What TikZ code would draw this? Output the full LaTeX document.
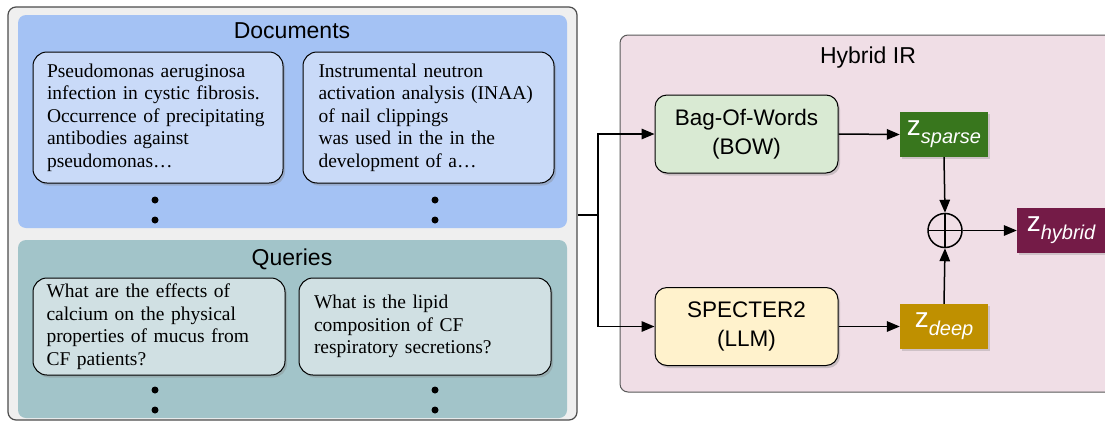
\documentclass[tikz,border=0pt]{standalone}
\usepackage{fontspec}
\setmainfont{Liberation Serif}
\setsansfont{Liberation Sans}
\usetikzlibrary{arrows.meta,shadows,positioning}
\definecolor{outerfill}{HTML}{EFEFEF}
\definecolor{docpanel}{HTML}{A4C2F4}
\definecolor{docbox}{HTML}{C9DAF8}
\definecolor{qpanel}{HTML}{A2C4C9}
\definecolor{qbox}{HTML}{D0E0E3}
\definecolor{hybfill}{HTML}{F0DEE6}
\definecolor{bowfill}{HTML}{D9EAD3}
\definecolor{llmfill}{HTML}{FFF2CC}
\definecolor{zsp}{HTML}{38761D}
\definecolor{zdp}{HTML}{BF9000}
\definecolor{zhy}{HTML}{741B47}
\tikzset{
  panel/.style={rounded corners=8pt, inner sep=0pt},
  textbox/.style={draw=black, line width=1pt, rounded corners=14pt, align=left,
     inner xsep=14pt, inner ysep=0pt, font=\fontsize{19.5}{22.5}\selectfont,
     drop shadow={shadow xshift=2pt, shadow yshift=-2.5pt, opacity=0.35}},
  title/.style={font=\sffamily\fontsize{23}{26}\selectfont},
  model/.style={draw=black, line width=1pt, rounded corners=12pt, align=center,
     minimum width=183pt, minimum height=78pt, font=\sffamily\fontsize{22.5}{29}\selectfont,
     drop shadow={shadow xshift=2pt, shadow yshift=-2.5pt, opacity=0.35}},
  zbox/.style={minimum width=88pt, minimum height=45pt, inner sep=0pt, text=white,
     font=\sffamily,
     drop shadow={shadow xshift=1.5pt, shadow yshift=-2pt, opacity=0.3}},
  arr/.style={line width=1.5pt, -{Triangle[length=13pt,width=10.5pt]}},
  ln/.style={line width=1.5pt},
  dot/.style={circle, fill=black, inner sep=0pt, minimum size=7pt},
}
\newcommand{\zlab}[1]{{\fontsize{28}{28}\selectfont z}\raisebox{-8pt}{\fontsize{20}{20}\selectfont\itshape #1}}
\begin{document}
\begin{tikzpicture}[x=1pt,y=-1pt]
\useasboundingbox (0,0) rectangle (1105,423);
% outer left container
\node[panel, draw=black!70, line width=1.2pt, fill=outerfill, minimum width=569pt, minimum height=413pt] (left) at (292.5,213.5) {};
\node[panel, fill=docpanel, minimum width=549pt, minimum height=213pt] (docp) at (292.5,121.5) {};
\node[panel, fill=qpanel, minimum width=549pt, minimum height=178pt] (qp) at (292.5,329) {};
\node[title] (doct) at (292,31) {Documents};
\node[title] (qt) at (292,259) {Queries};
% document boxes
\node[textbox, fill=docbox, text width=222pt, minimum height=131pt] (d1) at (158,117.5)
  {Pseudomonas aeruginosa\\infection in cystic fibrosis.\\Occurrence of precipitating\\antibodies against\\pseudomonas\ldots};
\node[textbox, fill=docbox, text width=220pt, inner xsep=15.5pt, minimum height=131pt] (d2) at (428.5,117.5)
  {Instrumental neutron\\activation analysis (INAA)\\of nail clippings\\was used in the in the\\development of a\ldots};
\node[textbox, fill=qbox, text width=225pt, inner xsep=13.5pt, minimum height=97pt] (q1) at (159,326.5)
  {What are the effects of\\calcium on the physical\\properties of mucus from\\CF patients?};
\node[textbox, fill=qbox, text width=222pt, inner xsep=15pt, minimum height=97pt] (q2) at (425,326.5)
  {What is the lipid\\composition of CF\\respiratory secretions?};
% dots
\node[dot] (d1a) at (155,200) {};
\node[dot] (d1b) at (155,220) {};
\node[dot] (d2a) at (435,200) {};
\node[dot] (d2b) at (435,220) {};
\node[dot] (q1a) at (155,390) {};
\node[dot] (q1b) at (155,410) {};
\node[dot] (q2a) at (435,390) {};
\node[dot] (q2b) at (435,410) {};
% hybrid panel
\node[panel, draw=black!65, line width=1pt, fill=hybfill, minimum width=500pt, minimum height=357pt] (hyb) at (870,213.5) {};
\node[title] (hybt) at (868,58) {Hybrid IR};
\node[model, fill=bowfill] (bow) at (746.5,134) {Bag-Of-Words\\(BOW)};
\node[model, fill=llmfill] (llm) at (746.5,326.5) {SPECTER2\\(LLM)};
\node[zbox, fill=zsp] (zs) at (944,134.5) {\zlab{sparse}};
\node[zbox, fill=zdp] (zd) at (944,326.5) {\zlab{deep}};
\node[zbox, fill=zhy] (zh) at (1061,230.5) {\zlab{hybrid}};
\node[circle, draw=black, line width=1.5pt, minimum size=34pt, inner sep=0pt,
  path picture={\draw[line width=1.5pt] (path picture bounding box.north) -- (path picture bounding box.south)
   (path picture bounding box.west) -- (path picture bounding box.east);}] (plus) at (945,230.5) {};
% connectors
\coordinate (split) at (598,215);
\draw[ln] (left.east |- split) -- (split);
\draw[arr] (split) |- (bow.west);
\draw[arr] (split) |- (llm.west);
\draw[arr] (bow.east) -- (zs.west);
\draw[arr] (llm.east) -- (zd.west);
\draw[arr] (zs.south) -- (plus.north);
\draw[arr] (zd.north) -- (plus.south);
\draw[arr] (plus.east) -- (zh.west);
\end{tikzpicture}
\end{document}
